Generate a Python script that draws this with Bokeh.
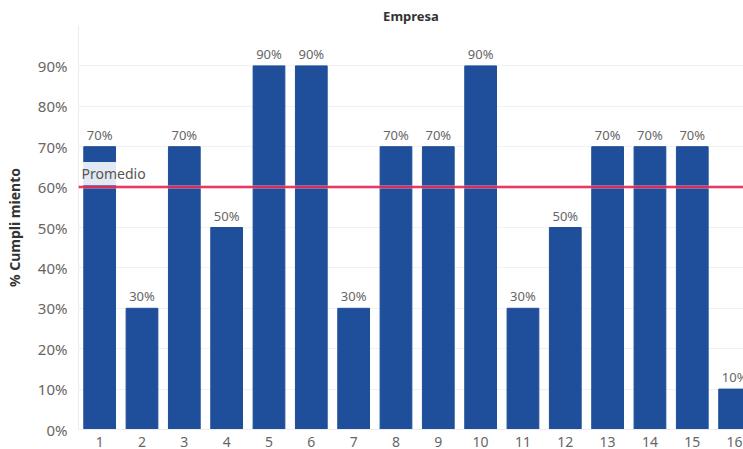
from bokeh.plotting import figure
from bokeh.models import (ColumnDataSource, Range1d, FixedTicker, Span, Label,
                          NumeralTickFormatter, LabelSet)
from bokeh.core.properties import value
from bokeh.embed import file_html
from bokeh.resources import INLINE

# Compliance rate per company
empresas = list(range(1, 17))
cumplimiento = [0.70, 0.30, 0.70, 0.50, 0.90, 0.90, 0.30, 0.70,
                0.70, 0.90, 0.30, 0.50, 0.70, 0.70, 0.70, 0.10]
etiquetas = [f"{round(v * 100)}%" for v in cumplimiento]
y_ticks = [0.0, 0.1, 0.2, 0.3, 0.4, 0.5, 0.6, 0.7, 0.8, 0.9]

promedio = sum(cumplimiento) / len(cumplimiento)

FONT = "Noto Sans"
BAR = "#1F4E9A"
GREY = "#666666"

src = ColumnDataSource(dict(x=empresas, y=cumplimiento, label=etiquetas))

p = figure(width=743, height=449, output_backend="svg", toolbar_location=None,
           x_range=Range1d(0.5, 16.21), y_range=Range1d(0, 1.0),
           min_border_left=78, min_border_right=0, min_border_top=25,
           min_border_bottom=17)
p.outline_line_color = None
p.background_fill_color = "white"

p.title.text = "Empresa"
p.title.align = "center"
p.title.text_font = FONT
p.title.text_font_size = "13px"
p.title.text_font_style = "bold"
p.title.text_color = "#333333"
p.title.standoff = 2

p.vbar(x="x", top="y", width=0.75, source=src, color=BAR)

p.add_layout(LabelSet(x="x", y="y", text="label", source=src,
                      text_align="center", text_baseline="bottom", y_offset=3,
                      text_font=value(FONT), text_font_size=value("13px"),
                      text_color=GREY))

# Average reference line
p.add_layout(Span(location=promedio, dimension="width", line_color="#F28BA5",
                  line_width=3.5, line_alpha=0.7))
p.add_layout(Span(location=promedio, dimension="width", line_color="#E0174A",
                  line_width=1.5))
p.add_layout(Label(x=0.5, y=promedio, x_offset=1, y_offset=2, text="Promedio",
                   text_baseline="bottom", text_font=FONT,
                   text_font_size="14px", text_color="#555555",
                   background_fill_color="white", background_fill_alpha=0.88,
                   padding=2))

# Axes
p.xaxis.ticker = FixedTicker(ticks=empresas)
p.xaxis.major_tick_line_color = None
p.xaxis.minor_tick_line_color = None
p.xaxis.axis_line_color = "#ececec"
p.xaxis.major_label_text_font = FONT
p.xaxis.major_label_text_font_size = "14px"
p.xaxis.major_label_text_color = GREY
p.xaxis.major_label_standoff = 1

p.yaxis.ticker = FixedTicker(ticks=y_ticks)
p.yaxis.formatter = NumeralTickFormatter(format="0%")
p.yaxis.major_tick_line_color = None
p.yaxis.minor_tick_line_color = None
p.yaxis.axis_line_color = "#ececec"
p.yaxis.major_label_text_font = FONT
p.yaxis.major_label_text_font_size = "15px"
p.yaxis.major_label_text_color = GREY
p.yaxis.major_label_standoff = 5
p.yaxis.axis_label = "% Cumpli miento"
p.yaxis.axis_label_text_font = FONT
p.yaxis.axis_label_text_font_size = "14px"
p.yaxis.axis_label_text_font_style = "bold"
p.yaxis.axis_label_text_color = "#333333"
p.yaxis.axis_label_standoff = 11

p.xgrid.grid_line_color = None
p.ygrid.grid_line_color = "#f1f1f1"

open("out.html", "w").write(file_html(p, INLINE))
